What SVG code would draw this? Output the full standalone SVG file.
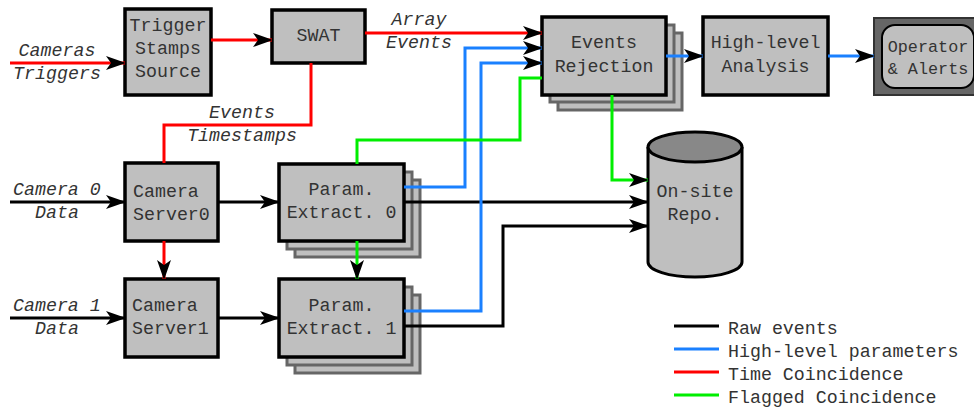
<svg xmlns="http://www.w3.org/2000/svg" width="974" height="410" viewBox="0 0 974 410">
  <style>
    text { font-family: "Liberation Mono", "Courier New", monospace; font-size: 18.3px; fill: #333; }
    .mid { text-anchor: middle; }
    .lbl { font-style: italic; }
    .small { font-size: 16.8px; }
    .box { fill: #bfbfbf; stroke: #000; stroke-width: 3.5; }
    .shadow { fill: #bfbfbf; stroke: #666; stroke-width: 3; }
    .wire { fill: none; stroke-width: 3; stroke-linejoin: miter; }
    .raw { stroke: #000; }
    .hl { stroke: #1a80ff; }
    .time { stroke: #ff0000; }
    .flag { stroke: #00ee00; }
  </style>
  <defs>
    <marker id="arrow" viewBox="0 0 20 14" refX="19" refY="7" markerWidth="20" markerHeight="14" markerUnits="userSpaceOnUse" orient="auto">
      <path d="M0,0 L20,7 L0,14 L5,7 z" fill="#000"/>
    </marker>
  </defs>
  <rect width="974" height="410" fill="#fff"/>

  <!-- nodes -->
  <g id="trigger-stamps-source">
    <rect class="box" x="125" y="9" width="86" height="86"/>
    <text class="mid" x="168" y="31">Trigger</text>
    <text class="mid" x="168" y="54">Stamps</text>
    <text class="mid" x="168" y="77">Source</text>
  </g>
  <g id="swat">
    <rect class="box" x="272" y="10" width="93" height="53"/>
    <text class="mid" x="318.5" y="41">SWAT</text>
  </g>
  <g id="events-rejection">
    <rect class="shadow" x="558" y="33" width="124" height="77"/>
    <rect class="shadow" x="550" y="25" width="124" height="77"/>
    <rect class="box" x="542" y="17" width="124" height="78"/>
    <text class="mid" x="604" y="48">Events</text>
    <text class="mid" x="604" y="72">Rejection</text>
  </g>
  <g id="high-level-analysis">
    <rect class="box" x="703" y="17" width="125" height="78"/>
    <text class="mid" x="765.5" y="48">High-level</text>
    <text class="mid" x="765.5" y="72">Analysis</text>
  </g>
  <g id="operator-alerts">
    <rect x="874" y="18" width="110" height="77" fill="#666" stroke="#333" stroke-width="2"/>
    <rect x="882" y="25" width="92" height="63" rx="13" fill="#bfbfbf" stroke="#000" stroke-width="2"/>
    <text class="mid small" x="928" y="52">Operator</text>
    <text class="mid small" x="928" y="74">&amp; Alerts</text>
  </g>
  <g id="camera-server0">
    <rect class="box" x="125" y="163" width="93" height="78"/>
    <text x="133" y="197">Camera</text>
    <text x="133" y="220">Server0</text>
  </g>
  <g id="camera-server1">
    <rect class="box" x="125" y="279" width="93" height="78"/>
    <text x="132" y="311">Camera</text>
    <text x="132" y="334">Server1</text>
  </g>
  <g id="param-extract0">
    <rect class="shadow" x="295" y="180" width="125" height="77"/>
    <rect class="shadow" x="287" y="172" width="125" height="77"/>
    <rect class="box" x="279" y="164" width="125" height="77"/>
    <text class="mid" x="341.5" y="195">Param.</text>
    <text class="mid" x="341.5" y="218">Extract. 0</text>
  </g>
  <g id="param-extract1">
    <rect class="shadow" x="295" y="295" width="125" height="78"/>
    <rect class="shadow" x="287" y="287" width="125" height="78"/>
    <rect class="box" x="279" y="279" width="125" height="78"/>
    <text class="mid" x="341.5" y="311">Param.</text>
    <text class="mid" x="341.5" y="334">Extract. 1</text>
  </g>
  <g id="on-site-repo">
    <path d="M648,147 L648,262 A47,15 0 0 0 742,262 L742,147" fill="#bfbfbf" stroke="#000" stroke-width="3"/>
    <ellipse cx="695" cy="147" rx="47" ry="15" fill="#888" stroke="#000" stroke-width="3"/>
    <text class="mid" x="695" y="197">On-site</text>
    <text class="mid" x="695" y="220">Repo.</text>
  </g>

  <!-- connectors -->
  <g id="connectors">
    <path class="wire time" d="M10,63 L125,63" marker-end="url(#arrow)"/>
    <path class="wire time" d="M211,40 L272,40" marker-end="url(#arrow)"/>
    <path class="wire time" d="M365,33 L542,33" marker-end="url(#arrow)"/>
    <path class="wire time" d="M311,63 L311,125 L164,125 L164,163"/>
    <path class="wire time" d="M164,241 L164,279" marker-end="url(#arrow)"/>
    <path class="wire raw" d="M10,202 L125,202" marker-end="url(#arrow)"/>
    <path class="wire raw" d="M10,318 L125,318" marker-end="url(#arrow)"/>
    <path class="wire raw" d="M218,202 L279,202" marker-end="url(#arrow)"/>
    <path class="wire raw" d="M218,318 L279,318" marker-end="url(#arrow)"/>
    <path class="wire raw" d="M404,202 L648,202" marker-end="url(#arrow)"/>
    <path class="wire raw" d="M404,326 L503,326 L503,226 L648,226" marker-end="url(#arrow)"/>
    <path class="wire hl" d="M404,187 L465,187 L465,48 L542,48" marker-end="url(#arrow)"/>
    <path class="wire hl" d="M404,311 L481,311 L481,63 L542,63" marker-end="url(#arrow)"/>
    <path class="wire hl" d="M666,56 L703,56" marker-end="url(#arrow)"/>
    <path class="wire hl" d="M828,56 L874,56" marker-end="url(#arrow)"/>
    <path class="wire flag" d="M357,164 L357,140 L520,140 L520,78 L542,78"/>
    <path class="wire flag" d="M357,241 L357,279" marker-end="url(#arrow)"/>
    <path class="wire flag" d="M612,95 L612,180 L648,180" marker-end="url(#arrow)"/>
  </g>

  <!-- connector labels -->
  <g id="labels">
    <text class="mid lbl" x="57" y="56">Cameras</text>
    <text class="mid lbl" x="57" y="79">Triggers</text>
    <text class="mid lbl" x="419" y="25">Array</text>
    <text class="mid lbl" x="419" y="48">Events</text>
    <text class="mid lbl" x="242" y="118">Events</text>
    <text class="mid lbl" x="242" y="141">Timestamps</text>
    <text class="lbl" x="13" y="195">Camera 0</text>
    <text class="mid lbl" x="57" y="218">Data</text>
    <text class="lbl" x="13" y="311">Camera 1</text>
    <text class="mid lbl" x="57" y="334">Data</text>
  </g>

  <!-- legend -->
  <g id="legend">
    <path class="wire raw" d="M674,326 L719,326"/>
    <path class="wire hl" d="M674,349 L719,349"/>
    <path class="wire time" d="M674,372 L719,372"/>
    <path class="wire flag" d="M674,395 L719,395"/>
    <text x="728" y="334">Raw events</text>
    <text x="728" y="357">High-level parameters</text>
    <text x="728" y="380">Time Coincidence</text>
    <text x="728" y="403">Flagged Coincidence</text>
  </g>
</svg>
